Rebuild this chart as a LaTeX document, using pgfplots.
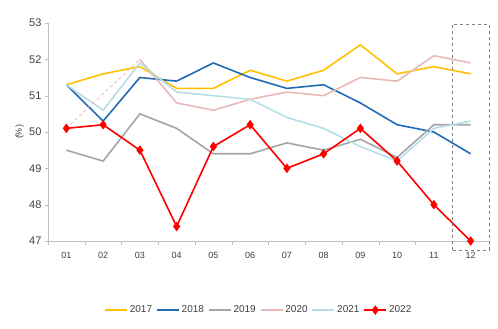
\documentclass[border=0pt]{standalone}
\usepackage{fontspec}
\setmainfont{Liberation Sans}
\usepackage{pgfplots}
\pgfplotsset{compat=1.18}
\definecolor{c17}{HTML}{FFC000}
\definecolor{c18}{HTML}{1F6BB5}
\definecolor{c19}{HTML}{A5A5A5}
\definecolor{c20}{HTML}{E8B9B8}
\definecolor{c21}{HTML}{B7DEE8}
\definecolor{c22}{HTML}{FF0000}
\definecolor{axc}{HTML}{BFBFBF}
\definecolor{txt}{HTML}{404040}
\begin{document}
\begin{tikzpicture}
\path[use as bounding box] (0,0) rectangle (498pt,329pt);
\begin{axis}[
  at={(48pt,88pt)}, anchor=south west,
  scale only axis, width=441pt, height=218pt,
  xmin=-0.5, xmax=11.5, ymin=47, ymax=53,
  axis x line=bottom, axis y line=left,
  axis line style={axc, -},
  xtick={0,...,11},
  xticklabels={01,02,03,04,05,06,07,08,09,10,11,12},
  minor xtick={-0.5,0.5,...,11.5},
  ytick={47,...,53},
  tick align=outside,
  major tick length=3pt, minor tick length=4pt,
  x tick style={draw=none}, minor x tick style={draw=axc},
  y tick style={axc},
  tick label style={text=txt},
  yticklabel style={font=\fontsize{11}{12}\selectfont},
  xticklabel style={font=\fontsize{9}{10}\selectfont, yshift=-5pt},
  /pgf/number format/assume math mode=true,
  ylabel={(\%)}, ylabel style={font=\fontsize{9}{10}\selectfont, text=txt, at={(axis description cs:-0.047,0.5)}},
  clip=false,
  legend columns=6,
  legend style={draw=none, at={(axis description cs:0.478,-0.317)}, anchor=center, font=\fontsize{10}{12}\selectfont, text=txt, /tikz/every even column/.append style={column sep=2pt}},
  legend image code/.code={\draw[mark repeat=2, mark phase=2, #1] plot coordinates {(0pt,0pt) (11pt,0pt) (22pt,0pt)};},
  every axis plot/.append style={line width=1.6pt},
]
\addplot[c17, mark=none] coordinates {(0,51.3)(1,51.6)(2,51.8)(3,51.2)(4,51.2)(5,51.7)(6,51.4)(7,51.7)(8,52.4)(9,51.6)(10,51.8)(11,51.6)};
\addlegendentry{2017}
\addplot[c18, mark=none] coordinates {(0,51.3)(1,50.3)(2,51.5)(3,51.4)(4,51.9)(5,51.5)(6,51.2)(7,51.3)(8,50.8)(9,50.2)(10,50.0)(11,49.4)};
\addlegendentry{2018}
\addplot[c19, mark=none] coordinates {(0,49.5)(1,49.2)(2,50.5)(3,50.1)(4,49.4)(5,49.4)(6,49.7)(7,49.5)(8,49.8)(9,49.3)(10,50.2)(11,50.2)};
\addlegendentry{2019}
\addplot[c20, mark=none] coordinates {(2,52.0)(3,50.8)(4,50.6)(5,50.9)(6,51.1)(7,51.0)(8,51.5)(9,51.4)(10,52.1)(11,51.9)};
\addlegendentry{2020}
\addplot[c21, mark=none] coordinates {(0,51.3)(1,50.6)(2,51.9)(3,51.1)(4,51.0)(5,50.9)(6,50.4)(7,50.1)(8,49.6)(9,49.2)(10,50.1)(11,50.3)};
\addlegendentry{2021}
\addplot[c20, dashed, line width=0.8pt, mark=none, forget plot] coordinates {(0,50.1)(2,52.0)};
\addplot[c22, mark=diamond*, mark size=3.5pt, mark options={solid, fill=c22}] coordinates {(0,50.1)(1,50.2)(2,49.5)(3,47.4)(4,49.6)(5,50.2)(6,49.0)(7,49.4)(8,50.1)(9,49.2)(10,48.0)(11,47.0)};
\addlegendentry{2022}
\draw[gray, dashed, line width=0.6pt] (axis cs:10.5,46.75) rectangle (axis cs:11.5,52.97);
\end{axis}
\end{tikzpicture}
\end{document}
